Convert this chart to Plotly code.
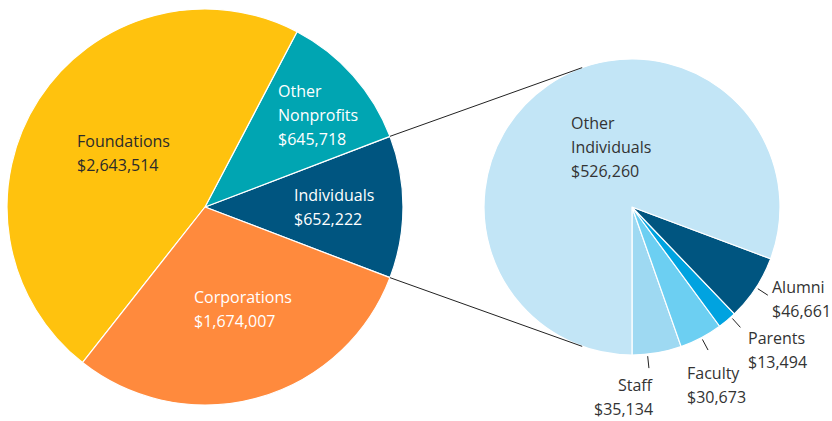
"""
Gift sources: pie of pies, with the Individuals slice broken out
"""
import math
import plotly.graph_objects as go

W, H = 832, 421

# main pie
main_labels = ['Individuals', 'Other Nonprofits', 'Foundations', 'Corporations']
main_values = [652222, 645718, 2643514, 1674007]
main_colors = ['#005580', '#00A5B2', '#FFC20E', '#FF8A3D']

# breakdown of individuals
sub_labels = ['Staff', 'Faculty', 'Parents', 'Alumni', 'Other Individuals']
sub_values = [35134, 30673, 13494, 46661, 526260]
sub_colors = ['#9ED9F2', '#6CCFF2', '#00A3E0', '#005580', '#C2E5F6']

FONT = 'Open Sans'
FS = 16

# pixel geometry of the two pies (screen pixels)
C1, R1 = (205, 207), 198
C2, R2 = (632, 207), 148


def px(x, y):
    return x / W, 1 - y / H


def clamp(v):
    return min(1.0, max(0.0, v))


def dom(c, r):
    x0, y1 = px(c[0] - r, c[1] - r)
    x1, y0 = px(c[0] + r, c[1] + r)
    return dict(x=[clamp(x0), clamp(x1)], y=[clamp(y0), clamp(y1)])


def money(v):
    return f"${v:,}"


def rotation_for(start_deg, first_val, vals):
    # plotly: with counterclockwise direction the first slice ends at 12 o'clock minus rotation
    s1 = first_val / sum(vals) * 360
    return 90 - start_deg - s1


fig = go.Figure()

half = main_values[0] / sum(main_values) * 180
fig.add_trace(go.Pie(
    labels=main_labels, values=main_values, sort=False,
    direction='counterclockwise', rotation=rotation_for(-half, main_values[0], main_values),
    marker=dict(colors=main_colors, line=dict(color='white', width=1.2)),
    textinfo='none', hoverinfo='label+value', domain=dom(C1, R1),
    showlegend=False))

fig.add_trace(go.Pie(
    labels=sub_labels, values=sub_values, sort=False,
    direction='counterclockwise', rotation=rotation_for(-90, sub_values[0], sub_values),
    marker=dict(colors=sub_colors, line=dict(color='white', width=1.2)),
    textinfo='none', hoverinfo='label+value', domain=dom(C2, R2),
    showlegend=False))

shapes = []

# connector lines: from edges of the Individuals slice, tangent to the second pie
for sgn in (1, -1):
    a = math.radians(sgn * half)
    p = (C1[0] + R1 * math.cos(a), C1[1] - R1 * math.sin(a))
    dx, dy = p[0] - C2[0], p[1] - C2[1]
    d = math.hypot(dx, dy)
    base = math.atan2(dy, dx)
    off = math.acos(R2 / d)
    t = base + off * sgn
    q = (C2[0] + R2 * math.cos(t), C2[1] + R2 * math.sin(t))
    x0, y0 = px(*p)
    x1, y1 = px(*q)
    shapes.append(dict(type='line', xref='paper', yref='paper',
                       x0=x0, y0=y0, x1=x1, y1=y1,
                       line=dict(color='#222', width=1)))

# leader ticks for the small slices (angle in degrees, math convention)
leader_ang = {'Staff': 276, 'Faculty': 298, 'Parents': 312, 'Alumni': 327}
for name, ang in leader_ang.items():
    a = math.radians(ang)
    x0, y0 = px(C2[0] + (R2 + 2) * math.cos(a), C2[1] - (R2 + 2) * math.sin(a))
    x1, y1 = px(C2[0] + (R2 + 14) * math.cos(a), C2[1] - (R2 + 14) * math.sin(a))
    shapes.append(dict(type='line', xref='paper', yref='paper',
                       x0=x0, y0=y0, x1=x1, y1=y1,
                       line=dict(color='#222', width=1)))

# label placement: (x px, first line centre y px, anchor, colour, name lines)
label_pos = {
    'Other Nonprofits': (276, 91, 'left', 'white', ['Other', 'Nonprofits']),
    'Foundations': (75, 141, 'left', '#2b2b2b', ['Foundations']),
    'Individuals': (292, 195, 'left', 'white', ['Individuals']),
    'Corporations': (192, 297, 'left', 'white', ['Corporations']),
    'Other Individuals': (569, 123, 'left', '#333', ['Other', 'Individuals']),
    'Alumni': (770, 287, 'left', '#333', ['Alumni']),
    'Parents': (746, 338, 'left', '#333', ['Parents']),
    'Faculty': (685, 373, 'left', '#333', ['Faculty']),
    'Staff': (655, 385, 'right', '#333', ['Staff']),
}
LINE = 24

annotations = []
values = dict(zip(main_labels, main_values))
values.update(dict(zip(sub_labels, sub_values)))
for name, (lx, ly, anchor, col, lines) in label_pos.items():
    for i, txt in enumerate(lines + [money(values[name])]):
        x, y = px(lx, ly + i * LINE)
        annotations.append(dict(
            x=x, y=y, xref='paper', yref='paper', text=txt, showarrow=False,
            xanchor=anchor, yanchor='middle',
            font=dict(family=FONT, size=FS, color=col)))

fig.update_layout(
    width=W, height=H, margin=dict(l=0, r=0, t=0, b=0),
    paper_bgcolor='white', plot_bgcolor='white',
    shapes=shapes, annotations=annotations)

# drop the browser's default body margin so the figure fills the window
fig.write_html("out.html", config={'displayModeBar': False},
               post_script="document.body.style.margin='0';")
